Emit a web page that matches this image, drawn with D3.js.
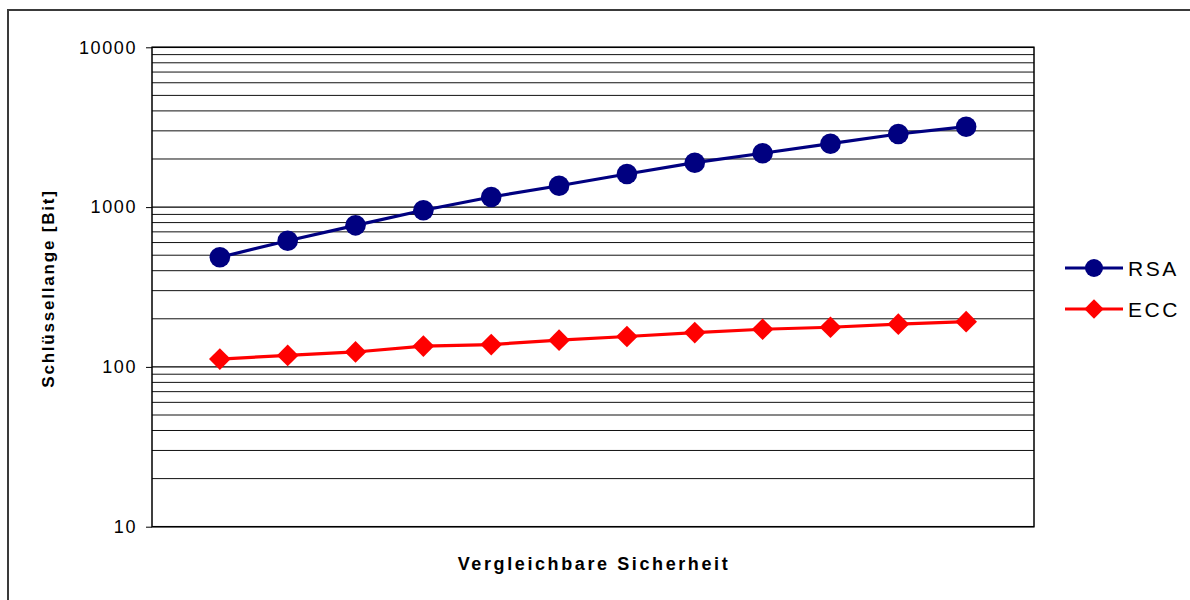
<!DOCTYPE html>
<html>
<head>
<meta charset="utf-8">
<script src="https://cdn.jsdelivr.net/npm/d3@7"></script>
<style>
  html, body { margin: 0; padding: 0; background: #fff; }
  svg { display: block; font-family: "Liberation Sans", Arial, sans-serif; }
</style>
</head>
<body>
<svg id="chart" width="1190" height="600"></svg>
<script>
// Comparable security levels (12 steps) and key lengths in bits
const levels = ["1", "2", "3", "4", "5", "6", "7", "8", "9", "10", "11", "12"];
const rsaBits = [485, 616, 769, 955, 1156, 1361, 1611, 1896, 2172, 2493, 2867, 3186];
const eccBits = [112, 118, 124, 135, 138, 147, 155, 164, 172, 177, 185, 192];
const yTicks = [10, 100, 1000, 10000];
const seriesNames = ["RSA", "ECC"];

const svg = d3.select("#chart");
const plot = { left: 152, right: 1034, top: 47.3, bottom: 526.7 };

const x = d3.scalePoint().domain(levels).range([plot.left, plot.right]).padding(1);
const y = d3.scaleLog().domain([10, 10000]).range([plot.bottom, plot.top]);

// Outer frame
svg.append("path")
  .attr("d", `M1192,10 H8 V602`)
  .attr("fill", "none").attr("stroke", "#3a3a3a").attr("stroke-width", 2);

// Minor gridlines (2..9 within each decade)
const minor = [];
for (let d = 10; d < 10000; d *= 10) for (let k = 2; k <= 9; k++) minor.push(d * k);
svg.append("g").selectAll("line").data(minor).join("line")
  .attr("x1", plot.left).attr("x2", plot.right)
  .attr("y1", d => y(d)).attr("y2", d => y(d))
  .attr("stroke", "#111").attr("stroke-width", 1);

// Major gridlines
svg.append("g").selectAll("line").data(yTicks).join("line")
  .attr("x1", plot.left).attr("x2", plot.right)
  .attr("y1", d => y(d)).attr("y2", d => y(d))
  .attr("stroke", "#000").attr("stroke-width", 1.2);

// Plot border (left axis, right edge)
svg.append("rect")
  .attr("x", plot.left).attr("y", plot.top)
  .attr("width", plot.right - plot.left).attr("height", plot.bottom - plot.top)
  .attr("fill", "none").attr("stroke", "#000").attr("stroke-width", 1.5);

// Y axis
const yAxis = d3.axisLeft(y).tickValues(yTicks).tickFormat(d3.format("d")).tickSize(6).tickPadding(9);
const gy = svg.append("g").attr("transform", `translate(${plot.left},0)`).call(yAxis);
gy.select(".domain").remove();
gy.selectAll(".tick line").attr("stroke", "#000");
gy.selectAll(".tick text")
  .attr("font-size", 18).attr("letter-spacing", "1.6px")
  .attr("fill", "#000").attr("font-family", "Liberation Sans, Arial, sans-serif");

// Axis titles
svg.append("text")
  .attr("transform", `translate(54,${(190 + 387) / 2}) rotate(-90)`)
  .attr("text-anchor", "middle")
  .attr("font-size", 17).attr("font-weight", "bold").attr("letter-spacing", "1.8px")
  .text("Schlüssellange [Bit]");

svg.append("text")
  .attr("x", 594).attr("y", 570)
  .attr("text-anchor", "middle")
  .attr("font-size", 18).attr("font-weight", "bold").attr("letter-spacing", "2.6px")
  .text("Vergleichbare Sicherheit");

// Series
const line = d3.line().x((d, i) => x(levels[i])).y(d => y(d));
const diamond = d3.symbol().type(d3.symbolDiamond2).size(300);

svg.append("path").datum(rsaBits).attr("d", line)
  .attr("fill", "none").attr("stroke", "#000080").attr("stroke-width", 3.2);
svg.append("g").selectAll("circle").data(rsaBits).join("circle")
  .attr("cx", (d, i) => x(levels[i])).attr("cy", d => y(d)).attr("r", 10.3)
  .attr("fill", "#000080");

svg.append("path").datum(eccBits).attr("d", line)
  .attr("fill", "none").attr("stroke", "#ff0000").attr("stroke-width", 3.2);
svg.append("g").selectAll("path").data(eccBits).join("path")
  .attr("transform", (d, i) => `translate(${x(levels[i])},${y(d)})`)
  .attr("d", diamond).attr("fill", "#ff0000");

// Legend
const legend = svg.append("g");
const legendRows = [
  { name: seriesNames[0], color: "#000080", shape: "circle", cy: 268 },
  { name: seriesNames[1], color: "#ff0000", shape: "diamond", cy: 309 }
];
legendRows.forEach(r => {
  legend.append("line").attr("x1", 1065).attr("x2", 1123)
    .attr("y1", r.cy).attr("y2", r.cy)
    .attr("stroke", r.color).attr("stroke-width", 3.2);
  if (r.shape === "circle") {
    legend.append("circle").attr("cx", 1094).attr("cy", r.cy).attr("r", 9).attr("fill", r.color);
  } else {
    legend.append("path").attr("transform", `translate(1094,${r.cy})`)
      .attr("d", d3.symbol().type(d3.symbolDiamond2).size(240)).attr("fill", r.color);
  }
  legend.append("text").attr("x", 1128).attr("y", r.cy + 7.5)
    .attr("font-size", 21).attr("letter-spacing", "2.5px").attr("fill", "#000")
    .text(r.name);
});
</script>
</body>
</html>
